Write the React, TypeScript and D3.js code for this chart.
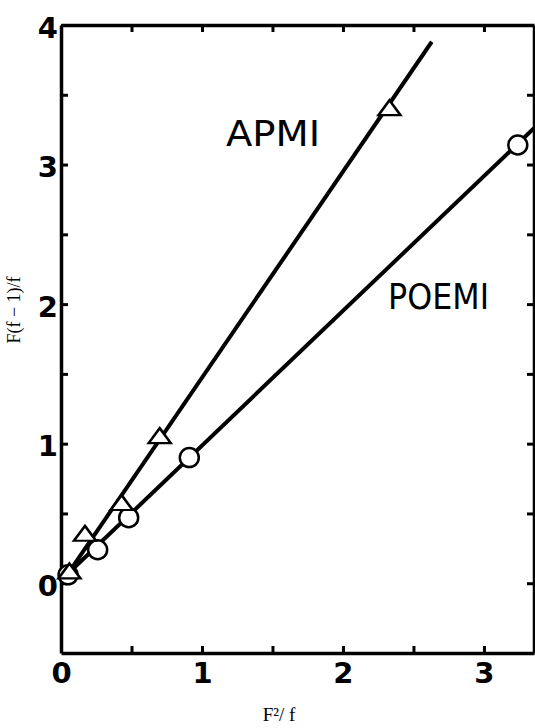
import React, { useEffect, useRef } from 'react'
import * as d3 from 'd3'

// F^2/f  vs  F(f-1)/f
const apmiX = [0.06, 0.17, 0.43, 0.70, 2.33]
const apmiY = [0.07, 0.34, 0.56, 1.04, 3.39]
const poemiX = [0.05, 0.26, 0.48, 0.91, 3.24]
const poemiY = [0.06, 0.24, 0.47, 0.90, 3.14]

// fitted straight lines (end points)
const apmiFitX = [0.03, 2.63]
const apmiFitY = [0.04, 3.88]
const poemiFitX = [0.03, 3.355]
const poemiFitY = [0.05, 3.26]

const xTicks = [0, 0.5, 1, 1.5, 2, 2.5, 3]
const yTicks = [0, 0.5, 1, 1.5, 2, 2.5, 3, 3.5, 4]

const W = 535
const H = 728

export default function App() {
    const ref = useRef<SVGSVGElement>(null)

    useEffect(() => {
        const svg = d3.select(ref.current)
        svg.selectAll('*').remove()

        // scales
        const x = d3.scaleLinear().domain([0, 3.355]).range([61, 534])
        const y = d3.scaleLinear().domain([-0.5, 4]).range([653, 25])

        const labelFmt = (d: any) => (Number.isInteger(d) ? String(d) : '')

        const styleAxis = (g: any) => {
            g.attr('font-family', null).attr('font-size', null)
            g.select('.domain').attr('stroke-width', 3.5)
            g.selectAll('.tick line').attr('stroke-width', 3)
            g.selectAll('.tick text')
                .attr('font-family', '"DejaVu Sans", sans-serif')
                .attr('font-weight', 'bold')
                .attr('font-size', 29)
                .attr('fill', '#000')
        }

        // bottom axis
        svg.append('g')
            .attr('transform', `translate(0,${y(-0.5)})`)
            .call(d3.axisBottom(x).tickValues(xTicks).tickSize(-7).tickSizeOuter(0).tickPadding(9).tickFormat(labelFmt))
            .call(styleAxis)

        // top axis
        svg.append('g')
            .attr('transform', `translate(0,${y(4)})`)
            .call(d3.axisTop(x).tickValues(xTicks.slice(1)).tickSize(-7).tickSizeOuter(0).tickFormat(() => ''))
            .call(styleAxis)

        // left axis
        svg.append('g')
            .attr('transform', `translate(${x(0)},0)`)
            .call(d3.axisLeft(y).tickValues(yTicks).tickSize(-7).tickSizeOuter(0).tickPadding(3).tickFormat(labelFmt))
            .call(styleAxis)
            .selectAll('.tick text')
            .attr('dy', '0.42em')

        // right axis
        svg.append('g')
            .attr('transform', `translate(${x(3.355)},0)`)
            .call(d3.axisRight(y).tickValues(yTicks).tickSize(-7).tickSizeOuter(0).tickFormat(() => ''))
            .call(styleAxis)

        // fitted lines
        const line = d3.line<[number, number]>()
            .x((d) => x(d[0]))
            .y((d) => y(d[1]))

        svg.append('path')
            .datum(apmiFitX.map((v, i) => [v, apmiFitY[i]] as [number, number]))
            .attr('d', line)
            .attr('fill', 'none')
            .attr('stroke', '#000')
            .attr('stroke-width', 4)

        svg.append('path')
            .datum(poemiFitX.map((v, i) => [v, poemiFitY[i]] as [number, number]))
            .attr('d', line)
            .attr('fill', 'none')
            .attr('stroke', '#000')
            .attr('stroke-width', 4)

        // POEMI circles
        svg.selectAll('circle.poemi')
            .data(poemiX)
            .enter()
            .append('circle')
            .attr('class', 'poemi')
            .attr('cx', (d) => x(d))
            .attr('cy', (d, i) => y(poemiY[i]))
            .attr('r', 9.5)
            .attr('fill', '#fff')
            .attr('stroke', '#000')
            .attr('stroke-width', 2.5)

        // APMI triangles
        const tri = d3.symbol().type(d3.symbolTriangle).size(210)
        svg.selectAll('path.apmi')
            .data(apmiX)
            .enter()
            .append('path')
            .attr('class', 'apmi')
            .attr('d', tri)
            .attr('transform', (d, i) => `translate(${x(d)},${y(apmiY[i])}) scale(1,0.78)`)
            .attr('fill', '#fff')
            .attr('stroke', '#000')
            .attr('stroke-width', 2.8)

        // series labels
        svg.append('text')
            .attr('x', 226)
            .attr('y', 146)
            .attr('textLength', 94)
            .attr('lengthAdjust', 'spacingAndGlyphs')
            .attr('font-family', '"DejaVu Sans", sans-serif')
            .attr('font-size', 36)
            .text('APMI')

        svg.append('text')
            .attr('x', 388)
            .attr('y', 309)
            .attr('textLength', 101)
            .attr('lengthAdjust', 'spacingAndGlyphs')
            .attr('font-family', '"DejaVu Sans", sans-serif')
            .attr('font-size', 35)
            .text('POEMI')

        // axis titles
        svg.append('text')
            .attr('transform', 'translate(20,310) rotate(-90)')
            .attr('text-anchor', 'middle')
            .attr('font-family', '"Liberation Serif", serif')
            .attr('font-size', 18)
            .text('F(f − 1)/f')

        svg.append('text')
            .attr('x', 279)
            .attr('y', 721)
            .attr('text-anchor', 'middle')
            .attr('font-family', '"Liberation Serif", serif')
            .attr('font-size', 19)
            .text('F²/ f')
    }, [])

    return (
        <svg
            ref={ref}
            width={W}
            height={H}
            style={{ position: 'absolute', left: 0, top: 0, background: '#fff' }}
        />
    )
}
